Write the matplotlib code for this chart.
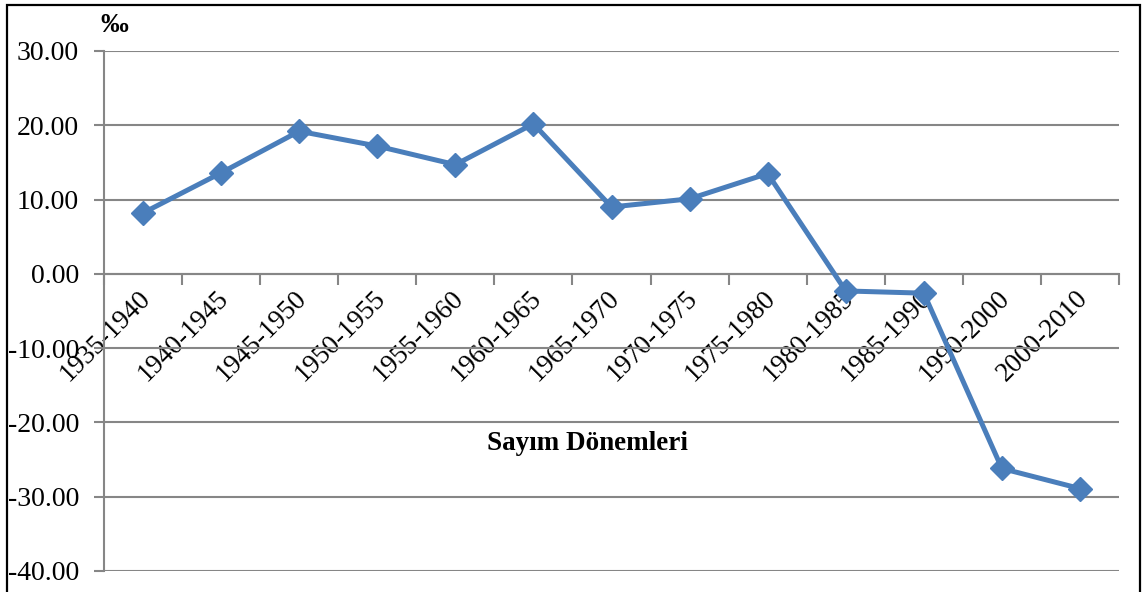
import matplotlib
matplotlib.use("Agg")
import matplotlib.pyplot as plt
from matplotlib.patches import Rectangle
from matplotlib.transforms import ScaledTranslation
import numpy as np

# ----------------------------------------------------
# DATA
# ----------------------------------------------------
periods = ["1935-1940", "1940-1945", "1945-1950", "1950-1955", "1955-1960",
           "1960-1965", "1965-1970", "1970-1975", "1975-1980", "1980-1985",
           "1985-1990", "1990-2000", "2000-2010"]
rates = [8.2, 13.6, 19.2, 17.2, 14.7, 20.2, 9.0, 10.1, 13.5, -2.3, -2.6, -26.2, -28.9]
y_ticks = [-40, -30, -20, -10, 0, 10, 20, 30]

plt.rcParams["font.family"] = ["Liberation Serif", "DejaVu Serif"]
plt.rcParams["axes.unicode_minus"] = False

grid_color = "#868686"
line_color = "#4A7EBB"

fig = plt.figure(figsize=(11.42, 5.92), dpi=100)
ax = fig.add_axes([104 / 1142, 1 - 571 / 592, 1015 / 1142, 520 / 592])

x = np.arange(len(periods))
ax.plot(x, rates, color=line_color, lw=3.6, marker="D", ms=12.5,
        mec=line_color, mfc=line_color, zorder=5, clip_on=False)

ax.set_xlim(-0.5, len(periods) - 0.5)
ax.set_ylim(-40, 30)

# gridlines
ax.set_yticks(y_ticks)
ax.set_yticklabels([f"{v:.2f}" for v in y_ticks], fontsize=20)
ax.yaxis.grid(True, color=grid_color, lw=1.5)
ax.set_axisbelow(True)
ax.tick_params(axis="y", direction="out", length=7, width=1.5, color=grid_color, pad=11)

# x axis at zero
for s in ["top", "right"]:
    ax.spines[s].set_visible(False)
ax.spines["left"].set_color(grid_color)
ax.spines["left"].set_linewidth(1.5)
ax.spines["bottom"].set_position(("data", 0))
ax.spines["bottom"].set_color(grid_color)
ax.spines["bottom"].set_linewidth(1.5)

ax.set_xticks(x)
ax.set_xticklabels(periods, fontsize=19.5, rotation=45, ha="right", va="center",
                   rotation_mode="anchor")
ax.tick_params(axis="x", which="major", length=0, pad=15)
ax.set_xticks(np.arange(-0.5, len(periods)), minor=True)
ax.tick_params(axis="x", which="minor", direction="out", length=8, width=1.5,
               color=grid_color)
shift = ScaledTranslation(4 / 100, 0, fig.dpi_scale_trans)
for lab in ax.get_xticklabels():
    lab.set_transform(lab.get_transform() + shift)

fig.text(100 / 1142, 1 - 25 / 592, "‰", fontsize=20, fontweight="bold",
         ha="left", va="center")
fig.text(587 / 1142, 1 - 443 / 592, "Sayım Dönemleri", fontsize=19.5,
         fontweight="bold", ha="center", va="center")

# outer frame
fig.patches.append(Rectangle((7 / 1142, -0.05), 1133 / 1142, 1.05 - 5 / 592,
                             transform=fig.transFigure, fill=False,
                             edgecolor="black", lw=1.6))

fig.savefig("out.png", dpi=100)
